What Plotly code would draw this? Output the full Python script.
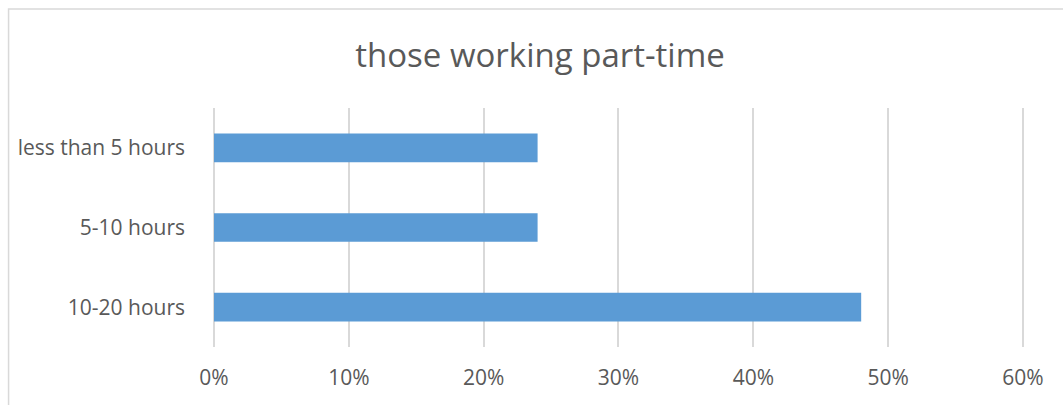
import plotly.graph_objects as go

categories = ["10-20 hours", "5-10 hours", "less than 5 hours"]
values = [0.48, 0.24, 0.24]
tick_vals = [0, 0.1, 0.2, 0.3, 0.4, 0.5, 0.6]
tick_text = ["0%", "10%", "20%", "30%", "40%", "50%", "60%"]

W, H = 1063, 405
XMAX = 0.6015
L, T, B = 213.5, 108, 58
R = W - L - (1022.7 - L) * XMAX / 0.6
pw, ph = W - L - R, H - T - B

fig = go.Figure(go.Bar(
    y=categories, x=values, orientation="h",
    marker=dict(color="#5B9BD5", line=dict(color="#5B9BD5", width=0)),
))

fig.update_layout(
    width=W, height=H,
    margin=dict(l=L, r=R, t=T, b=B),
    paper_bgcolor="white", plot_bgcolor="white",
    bargap=0.64,
    showlegend=False,
    font=dict(family="Open Sans", color="#595959"),
    title=dict(text="those working part-time", x=540 / W, xref="container", xanchor="center",
               y=1 - 55 / H, yref="container", yanchor="middle",
               font=dict(size=33, color="#595959", family="Open Sans")),
    xaxis=dict(range=[0, XMAX], tickvals=tick_vals, ticktext=tick_text,
               showgrid=True, gridcolor="#D9D9D9", gridwidth=1.5,
               zeroline=True, zerolinecolor="#D9D9D9", zerolinewidth=1.5,
               showline=False, ticks="",
               tickfont=dict(size=21, color="#595959"), ticklabelstandoff=16),
    yaxis=dict(showgrid=False, zeroline=False, showline=False, ticks="",
               tickfont=dict(size=21, color="#595959"), ticklabelstandoff=28,
               range=[-0.5, 2.5]),
    shapes=[dict(type="rect", xref="paper", yref="paper",
                 x0=(8 - L) / pw, x1=(W + 20 - L) / pw,
                 y0=-(B + 20) / ph, y1=(H - B - 9) / ph,
                 line=dict(color="#D9D9D9", width=1.5), fillcolor="rgba(0,0,0,0)", layer="below")],
)

fig.write_html("out.html", config={"displayModeBar": False},
               post_script="document.body.style.margin='0';document.body.style.overflow='hidden';")
